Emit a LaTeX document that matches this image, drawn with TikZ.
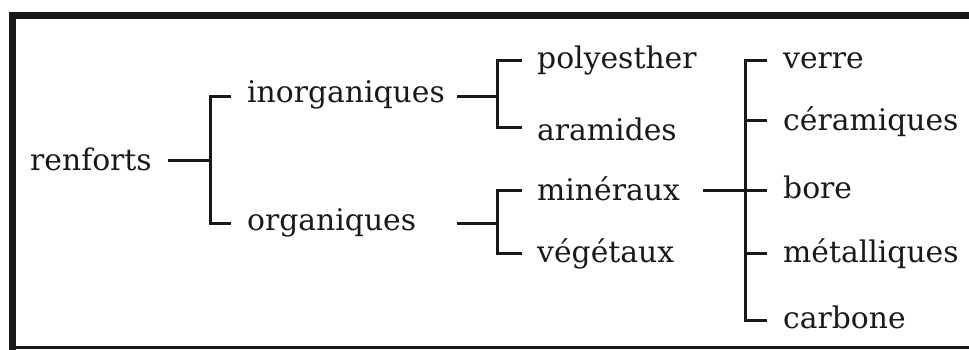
\documentclass[tikz,border=0pt]{standalone}
\usepackage{fontspec}
\setmainfont{DejaVu Serif}
\begin{document}
\begin{tikzpicture}[x=1pt,y=-1pt,
  lbl/.style={anchor=base west,inner sep=0pt,font=\fontsize{29.8}{31}\selectfont,text=black!90},
  conn/.style={line width=3pt,draw=black!90}]
\useasboundingbox (0,0) rectangle (969,349);
% frame
\draw[line width=7pt,black!90] (12.5,352) -- (12.5,15.5) -- (975,15.5);
\draw[line width=3pt,black!90] (9,347.5) -- (975,347.5);
% text nodes
\node[lbl] (renf) at (30,170) {renforts};
\node[lbl] (inorg) at (247,102) {inorganiques};
\node[lbl] (org) at (247,230) {organiques};
\node[lbl] (poly) at (537,68) {polyesther};
\node[lbl] (aram) at (537,140) {aramides};
\node[lbl] (mine) at (537,200) {minéraux};
\node[lbl] (vege) at (537,262) {végétaux};
\node[lbl] (verre) at (783,68) {verre};
\node[lbl] (cera) at (783,130) {céramiques};
\node[lbl] (bore) at (783,198) {bore};
\node[lbl] (meta) at (783,262) {métalliques};
\node[lbl] (carb) at (783,328) {carbone};
% junction coordinates
\coordinate (j1) at (210,160);
\coordinate (j2) at (497,96);
\coordinate (j3) at (497,223);
\coordinate (j4) at (745,190);
% level 1
\draw[conn] (168,160) coordinate (s1) -- (j1);
\draw[conn] (231,96) coordinate (t1) -| (j1) |- (231,223) coordinate (t2);
% level 2
\draw[conn] (457,96) coordinate (s2) -- (j2);
\draw[conn] (522,60) coordinate (t3) -| (j2) |- (522,127) coordinate (t4);
\draw[conn] (457,223) coordinate (s3) -- (j3);
\draw[conn] (522,190) coordinate (t5) -| (j3) |- (522,253) coordinate (t6);
% level 3
\draw[conn] (703,190) coordinate (s4) -- (767,190) coordinate (t9);
\draw[conn] (767,60) coordinate (t7) -| (j4) |- (767,320) coordinate (t11);
\draw[conn] (j4 |- 0,120) -- (767,120) coordinate (t8);
\draw[conn] (j4 |- 0,253) -- (767,253) coordinate (t10);
\end{tikzpicture}
\end{document}
